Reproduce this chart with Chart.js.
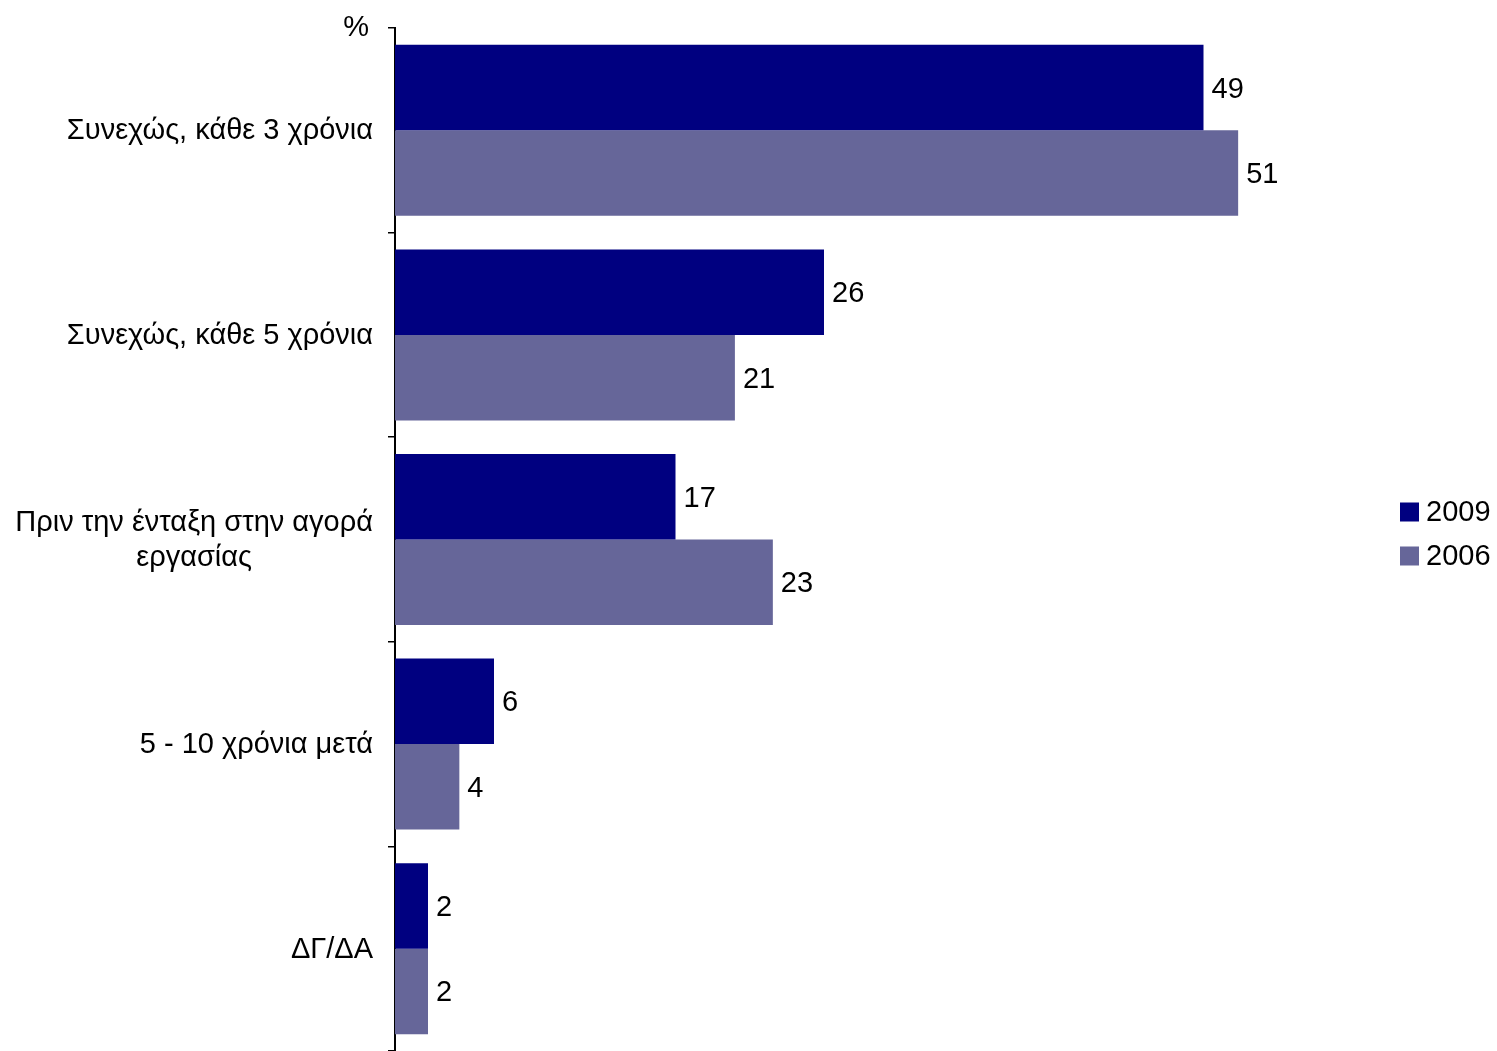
<!DOCTYPE html>
<html>
<head>
<meta charset="utf-8">
<title>Chart</title>
<script src="https://cdn.jsdelivr.net/npm/chart.js@4"></script>
<style>
  html, body { margin: 0; padding: 0; background: #fff; }
  #wrap { width: 1497px; height: 1051px; position: relative; }
</style>
</head>
<body>
<div id="wrap"><canvas id="chart1"></canvas></div>
<script>
// κατηγορίες και τιμές (%)
var categories = [
  ['Συνεχώς, κάθε 3 χρόνια'],
  ['Συνεχώς, κάθε 5 χρόνια'],
  ['Πριν την ένταξη στην αγορά', 'εργασίας'],
  ['5 - 10 χρόνια μετά'],
  ['ΔΓ/ΔΑ']
];
var series2009 = [49, 26, 17, 6, 2];
var series2006 = [51.1, 20.6, 22.9, 3.9, 2];
var seriesNames = ['2009', '2006'];
var axisUnit = '%';

var FONT = '"Liberation Sans", Arial, sans-serif';
Chart.defaults.font.family = FONT;
Chart.defaults.font.size = 29;
Chart.defaults.color = '#000';

// τιμές στο τέλος κάθε μπάρας (στρογγυλεμένες όπως στο Excel)
var valueLabels = {
  id: 'valueLabels',
  afterDatasetsDraw: function(chart) {
    var ctx = chart.ctx;
    ctx.save();
    ctx.font = '29px ' + FONT;
    ctx.fillStyle = '#000';
    ctx.textAlign = 'left';
    ctx.textBaseline = 'middle';
    chart.data.datasets.forEach(function(ds, di) {
      var meta = chart.getDatasetMeta(di);
      meta.data.forEach(function(bar, i) {
        ctx.fillText(String(Math.round(ds.data[i])), bar.x + 8, bar.y + 2);
      });
    });
    ctx.restore();
  }
};

// ετικέτες κατηγοριών (μπλοκ δεξιά, γραμμές στο κέντρο)
var categoryLabels = {
  id: 'categoryLabels',
  afterDraw: function(chart) {
    var ctx = chart.ctx;
    var y = chart.scales.y;
    var right = y.right - 22;
    ctx.save();
    ctx.font = '29px ' + FONT;
    ctx.fillStyle = '#000';
    ctx.textBaseline = 'middle';
    ctx.textAlign = 'center';
    chart.data.labels.forEach(function(lines, i) {
      var w = 0;
      lines.forEach(function(l) { w = Math.max(w, ctx.measureText(l).width); });
      var cy = y.getPixelForTick(i);
      var lh = 35;
      var start = cy - (lines.length - 1) * lh / 2;
      lines.forEach(function(l, k) {
        ctx.fillText(l, right - w / 2, start + k * lh + 1);
      });
    });
    // μονάδα άξονα
    ctx.textAlign = 'right';
    ctx.fillText(axisUnit, y.right - 26, chart.chartArea.top);
    ctx.restore();
  }
};

// υπόμνημα στα δεξιά
var sideLegend = {
  id: 'sideLegend',
  afterDraw: function(chart) {
    var ctx = chart.ctx;
    var x = chart.chartArea.right + 15;
    var mid = 534;
    var step = 44;
    var n = chart.data.datasets.length;
    ctx.save();
    ctx.font = '29px ' + FONT;
    ctx.textBaseline = 'middle';
    ctx.textAlign = 'left';
    chart.data.datasets.forEach(function(ds, i) {
      var cy = mid + (i - (n - 1) / 2) * step;
      ctx.fillStyle = ds.backgroundColor;
      ctx.fillRect(x, cy - 9.5, 19, 19);
      ctx.fillStyle = '#000';
      ctx.fillText(ds.label, x + 26, cy + 1);
    });
    ctx.restore();
  }
};

var ctx1 = document.getElementById('chart1').getContext('2d');
var chart1 = new Chart(ctx1, {
  type: 'bar',
  data: {
    labels: categories,
    datasets: [{
      label: seriesNames[0],
      data: series2009,
      backgroundColor: '#000080',
      borderWidth: 0
    }, {
      label: seriesNames[1],
      data: series2006,
      backgroundColor: '#666699',
      borderWidth: 0
    }]
  },
  options: {
    indexAxis: 'y',
    responsive: true,
    maintainAspectRatio: false,
    animation: false,
    categoryPercentage: 0.836,
    barPercentage: 1.0,
    layout: { padding: { top: 28, right: 112, bottom: -2, left: 0 } },
    plugins: {
      legend: { display: false },
      tooltip: { enabled: false }
    },
    scales: {
      x: {
        display: false,
        min: 0,
        max: 60
      },
      y: {
        ticks: { display: false },
        grid: {
          drawOnChartArea: false,
          drawTicks: true,
          tickLength: 7,
          color: '#000',
          lineWidth: 1.5
        },
        border: { display: true, color: '#000', width: 2 },
        afterFit: function(scale) { scale.width = 395; }
      }
    }
  },
  plugins: [valueLabels, categoryLabels, sideLegend]
});
</script>
</body>
</html>
